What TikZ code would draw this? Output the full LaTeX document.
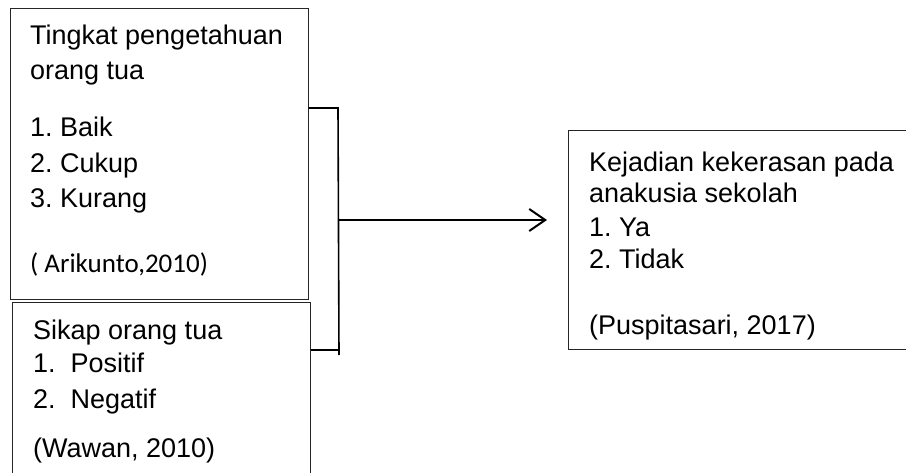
\documentclass[tikz,border=0pt]{standalone}
\usepackage{fontspec}
\setmainfont{Liberation Sans}
\newfontfamily\calib{Carlito}
\usetikzlibrary{arrows.meta}
\frenchspacing
\begin{document}
\begin{tikzpicture}[x=1pt,y=-1pt,
  boxstyle/.style={draw=black!85,line width=1pt,inner sep=0pt},
  txt/.style={anchor=base west,inner sep=0pt,font=\fontsize{27}{30}\selectfont},
  link/.style={draw=black,line width=1.6pt},
  arr/.style={draw=black,line width=2pt,-{Straight Barb[length=16pt,width=22pt,line width=2pt]}}]
\useasboundingbox (0,0) rectangle (906,473);
% boxes
\node[boxstyle,minimum width=298pt,minimum height=291pt] (box1) at (159,154.5) {};
\node[boxstyle,minimum width=298pt,minimum height=200pt] (box2) at (161,403) {};
\node[boxstyle,minimum width=400pt,minimum height=219pt] (box3) at (768,240.5) {};
% box1 text
\node[txt] (t1) at (30,45) {Tingkat pengetahuan};
\node[txt] (t2) at (30,80) {orang tua};
\node[txt] (t3) at (30,137) {1. Baik};
\node[txt] (t4) at (30,173) {2. Cukup};
\node[txt] (t5) at (30,208) {3. Kurang};
\node[txt,font=\calib\fontsize{27}{30}\selectfont] (t6) at (30,273) {( Arikunto,2010)};
% box2 text
\node[txt] (s1) at (33,340) {Sikap orang tua};
\node[txt] (s2) at (33,373) {1.\ \ Positif};
\node[txt] (s3) at (33,408) {2.\ \ Negatif};
\node[txt] (s4) at (33,457) {(Wawan, 2010)};
% box3 text
\node[txt] (k1) at (589,172) {Kejadian kekerasan pada};
\node[txt] (k2) at (589,203) {anakusia sekolah};
\node[txt] (k3) at (589,237) {1. Ya};
\node[txt] (k4) at (589,269) {2. Tidak};
\node[txt] (k5) at (589,335) {(Puspitasari, 2017)};
% connectors
\coordinate (jtop) at (338,108);
\coordinate (jbot) at (339,355);
\coordinate (jmid) at (339,220);
\coordinate (jlow) at (339,350);
\coordinate (tip) at (547,220);
\draw[link] (box1.east |- jtop) -- (jtop) -- (jbot);
\draw[link] (box2.east |- jlow) -- (jlow);
\draw[arr] (jmid) -- (tip);
\end{tikzpicture}
\end{document}
